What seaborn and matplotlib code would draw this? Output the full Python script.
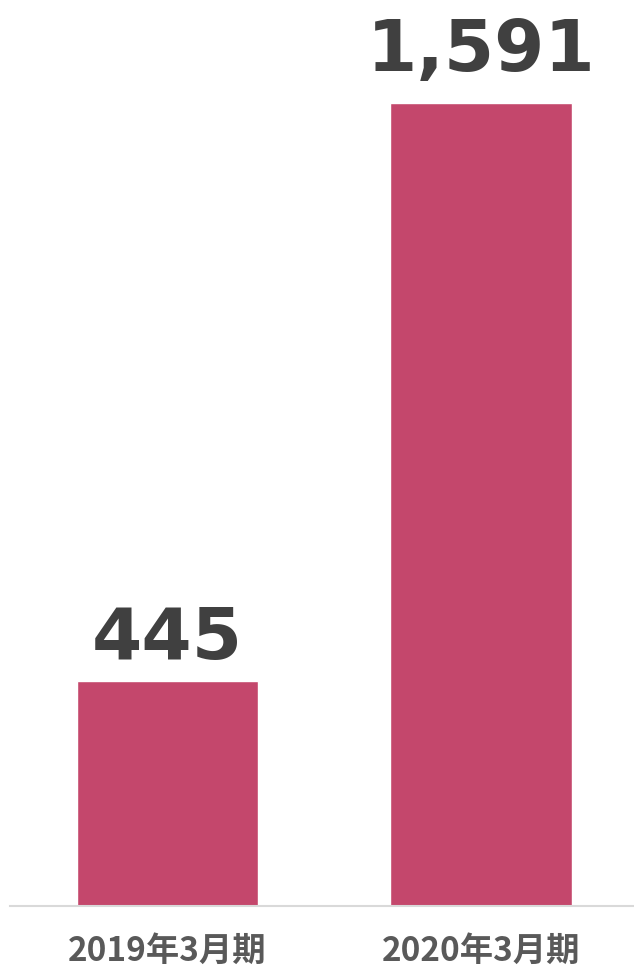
import matplotlib
matplotlib.use("Agg")
import matplotlib.pyplot as plt
import seaborn as sns

# data
periods = ["2019年3月期", "2020年3月期"]
values = [445, 1591]
value_labels = ["445", "1,591"]

bar_color = "#C4476C"
label_pad = [16, 23]  # points above bar top

sns.set_theme(style="white")
plt.rcParams["font.family"] = ["Noto Sans CJK JP", "DejaVu Sans"]

fig = plt.figure(figsize=(6.34, 9.68), dpi=100)
ax = fig.add_axes([10 / 634, 62 / 968, 624 / 634, 906 / 968])

sns.barplot(x=periods, y=values, color=bar_color, saturation=1, width=0.578, ax=ax)

ax.set_xlim(-0.502, 1.488)
ax.set_ylim(0, 1795)

for i, (v, txt) in enumerate(zip(values, value_labels)):
    ax.annotate(txt, (i, v), xytext=(0, label_pad[i]), textcoords="offset points",
                ha="center", va="baseline", fontsize=52, fontweight="bold",
                color="#404040", family="DejaVu Sans")

for s in ["top", "right", "left"]:
    ax.spines[s].set_visible(False)
ax.spines["bottom"].set_color("#D9D9D9")
ax.spines["bottom"].set_linewidth(1.5)
ax.set_yticks([])
ax.tick_params(axis="x", length=0, pad=21)
for lbl in ax.get_xticklabels():
    lbl.set_fontsize(24)
    lbl.set_fontweight("bold")
    lbl.set_color("#595959")
ax.set_xlabel("")
ax.set_ylabel("")

fig.savefig("out.png", dpi=100)
